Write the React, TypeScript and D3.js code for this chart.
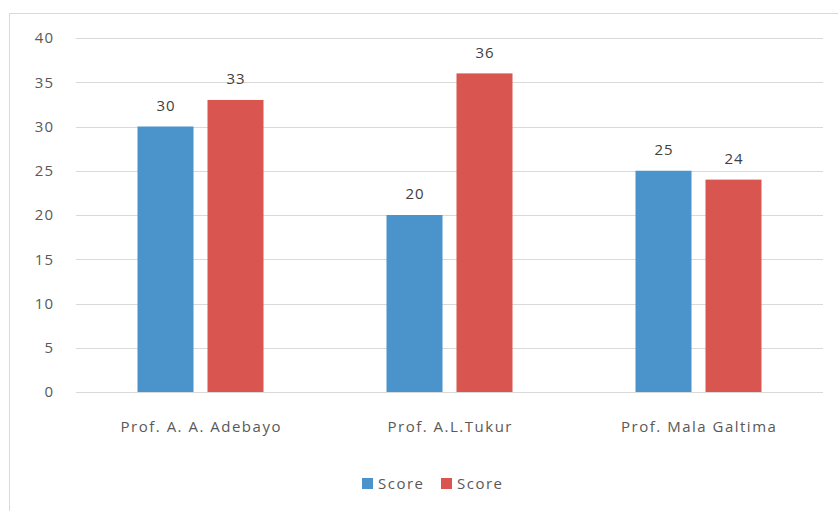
import React from 'react';
import * as d3 from 'd3';

const categories = ['Prof. A. A. Adebayo', 'Prof. A.L.Tukur', 'Prof. Mala Galtima'];
const seriesNames = ['Score', 'Score'];
const seriesA = [30, 20, 25];
const seriesB = [33, 36, 24];
const yTicks = [0, 5, 10, 15, 20, 25, 30, 35, 40];
const colors = ['#4a94cb', '#d9554f'];

const W = 838;
const H = 511;
const FONT = '"Open Sans", "Noto Sans", sans-serif';

export default function App() {
  const left = 76, right = 823, top = 38, bottom = 392;

  const x = d3.scaleBand().domain(categories).range([left, right]);
  const y = d3.scaleLinear().domain([0, 40]).range([bottom, top]);
  const barW = 56;
  const gap = 14;
  const series = [seriesA, seriesB];

  return (
    <svg width={W} height={H} style={{ position: 'absolute', left: 0, top: 0 }}>
      <rect x={0} y={0} width={W} height={H} fill="#fff" />
      {/* chart border, cut off at right and bottom */}
      <rect x={9.5} y={13.5} width={W} height={H} fill="none" stroke="#d9d9d9" />
      {yTicks.map(t => (
        <g key={t}>
          <line x1={left} x2={right} y1={Math.round(y(t)) + 0.5} y2={Math.round(y(t)) + 0.5} stroke="#d9d9d9" />
          <text x={54} y={y(t)} dy="0.35em" textAnchor="end" fontFamily={FONT} fontSize={15} letterSpacing={1} fill="#595959">{t}</text>
        </g>
      ))}
      {categories.map((c, i) => {
        const cx = (x(c) ?? 0) + x.bandwidth() / 2;
        return (
          <g key={c}>
            {series.map((s, j) => {
              const bx = j === 0 ? cx - gap / 2 - barW : cx + gap / 2;
              return (
                <g key={j}>
                  <rect x={bx} y={y(s[i])} width={barW} height={bottom - y(s[i])} fill={colors[j]} />
                  <text x={bx + barW / 2 + 0.5} y={y(s[i]) - 21} dy="0.35em" textAnchor="middle" fontFamily={FONT} fontSize={15} letterSpacing={1} fill="#404040">{s[i]}</text>
                </g>
              );
            })}
            <text x={cx + 0.75} y={427} dy="0.35em" textAnchor="middle" fontFamily={FONT} fontSize={15} letterSpacing={1.5} fill="#595959">{c}</text>
          </g>
        );
      })}
      {seriesNames.map((n, j) => {
        const lx = j === 0 ? 362 : 441;
        return (
          <g key={j}>
            <rect x={lx} y={478} width={11} height={11} fill={colors[j]} />
            <text x={lx + 16} y={484} dy="0.35em" fontFamily={FONT} fontSize={15} letterSpacing={1.5} fill="#595959">{n}</text>
          </g>
        );
      })}
    </svg>
  );
}
